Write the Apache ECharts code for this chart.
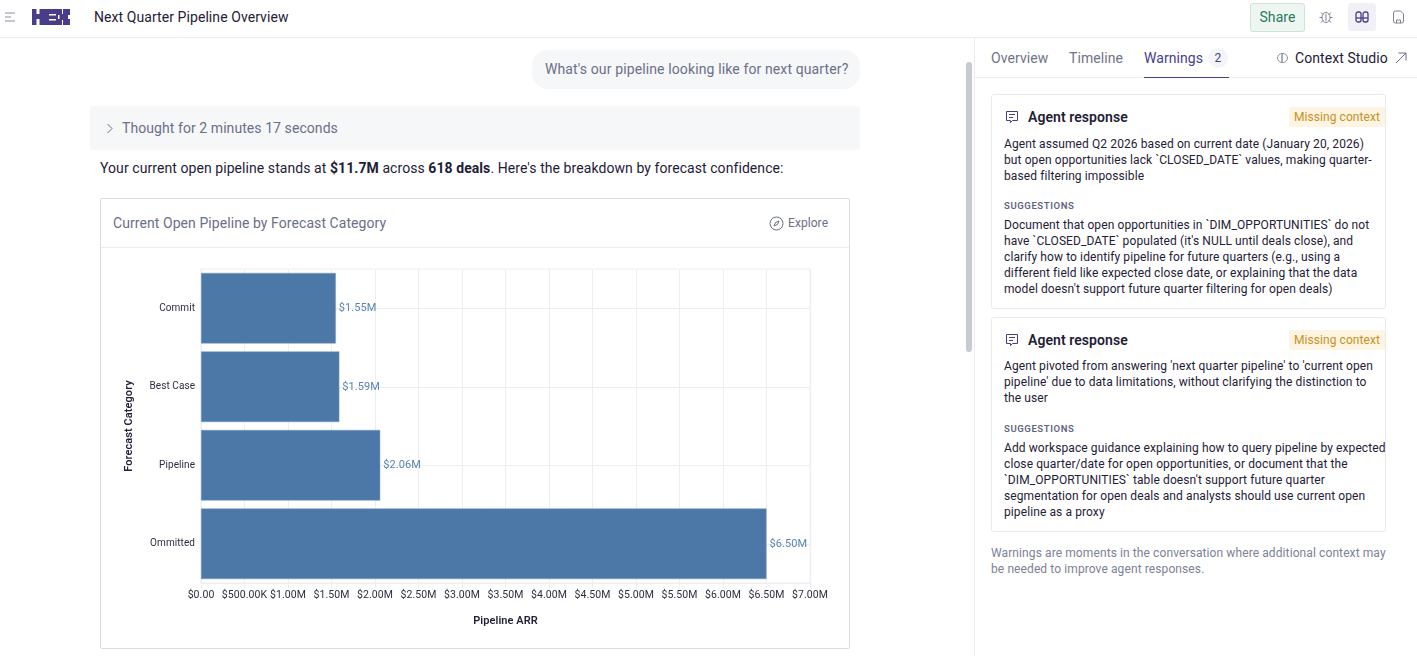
<!DOCTYPE html>
<html>
<head>
<meta charset="utf-8">
<title>Next Quarter Pipeline Overview</title>
<script src="https://cdn.jsdelivr.net/npm/echarts@6/dist/echarts.min.js"></script>
<style>
html,body{margin:0;padding:0;width:1417px;height:656px;overflow:hidden;background:#fff;font-family:Roboto,sans-serif;color:#1f2036;letter-spacing:.07px}
.a{position:absolute;white-space:nowrap}
.box{position:absolute;left:991px;width:393px;border:1px solid #e9eaf0;border-radius:3px;box-sizing:content-box}
.body{font-size:12px;line-height:16px;color:#1f2036;letter-spacing:.1px}
.sug{font-size:9.5px;font-weight:600;letter-spacing:.6px;color:#5f6580}
.badge{background:#fdf4e2;color:#c8921f;font-size:12px;border-radius:3px;height:20px;line-height:20px;width:96px;text-align:center}
.head{font-size:14px;font-weight:600}
.tab{font-size:14px;color:#6f7488}
</style>
</head>
<body>
<!-- top bar -->
<div class="a" style="left:0;top:37px;width:1417px;height:1px;background:#ececf0"></div>
<svg class="a" style="left:5px;top:12px" width="11" height="11"><path d="M0 1h10M0 5h6M0 9h10" stroke="#b3b6c6" stroke-width="1.5"/></svg>
<div class="a" style="left:32px;top:9px;height:16px;width:38px;background:#473d8b"></div>
<svg class="a" style="left:32px;top:9px" width="38" height="16"><path d="M4.500 0h3v5h-3zM4.500 10h3v6h-3zM17 5h7v1.500h-7zM17 10h7v1.500h-7zM30 0h1v5h-1zM30 11h1v5h-1zM36 6h2v4h-2zM26 6h1.500v4h-1.500z" fill="#fff"/></svg>
<div class="a" style="left:94px;top:8px;font-size:14px;line-height:19px;color:#1f2036">Next Quarter Pipeline Overview</div>
<div class="a" style="left:1250px;top:3px;width:53px;height:27px;line-height:27px;text-align:center;border:1px solid #cfe3da;background:#eef6f2;border-radius:3px;color:#2b7a62;font-size:14px">Share</div>
<svg class="a" style="left:1318px;top:9px" width="16" height="16" fill="none" stroke="#7d8196"><ellipse cx="8" cy="8.500" rx="4" ry="5"/><path d="M8 5v7M1.500 8.500h2.500M12 8.500h2.500M3 3.500l2 2M13 3.500l-2 2M3 13.500l2-2M13 13.500l-2-2"/></svg>
<div class="a" style="left:1348px;top:3px;width:28px;height:28px;background:#f1f0f7;border-radius:3px"></div>
<svg class="a" style="left:1355px;top:10px" width="14" height="14" fill="none" stroke="#473d8b" stroke-width="1.300"><rect x="1" y="2" width="5" height="10" rx="2"/><rect x="8" y="2" width="5" height="10" rx="2"/><path d="M1 8h12"/></svg>
<svg class="a" style="left:1392px;top:10px" width="13" height="14" fill="none" stroke="#7d8196"><path d="M1.500 3a2 2 0 0 1 2-2h5l3 3v7a2 2 0 0 1-2 2h-6a2 2 0 0 1-2-2zM4.500 13v-3h4v3"/></svg>

<!-- conversation -->
<div class="a" style="left:532px;top:50px;width:328px;height:39px;background:#f6f7f9;border-radius:16px"></div>
<div class="a" style="left:545px;top:60px;font-size:14px;line-height:19px;color:#6a7088;letter-spacing:.12px">What's our pipeline looking like for next quarter?</div>
<div class="a" style="left:90px;top:106px;width:770px;height:44px;background:#f6f7f9;border-radius:2px"></div>
<svg class="a" style="left:106px;top:123px" width="8" height="11" fill="none" stroke="#6a7088"><path d="M1.500 1l4.500 4.500-4.500 4.500"/></svg>
<div class="a" style="left:122px;top:119px;font-size:14px;line-height:19px;color:#6a7088">Thought for 2 minutes 17 seconds</div>
<div class="a" style="left:100px;top:159px;font-size:14px;line-height:19px">Your current open pipeline stands at <b>$11.7M</b> across <b>618 deals</b>. Here's the breakdown by forecast confidence:</div>

<!-- chart card -->
<div class="a" style="left:100px;top:198px;width:748px;height:449px;border:1px solid #dcdde6;border-radius:2px"></div>
<div class="a" style="left:101px;top:247px;width:748px;height:1px;background:#ececf0"></div>
<div class="a" style="left:113px;top:214px;font-size:14px;line-height:19px;color:#6a7088">Current Open Pipeline by Forecast Category</div>
<svg class="a" style="left:769px;top:216px" width="15" height="15" fill="none" stroke="#6a7088"><circle cx="7.500" cy="7.500" r="6.500"/><path d="M10 5l-1.500 3.500-3.500 1.500 1.500-3.500z"/></svg>
<div class="a" style="left:788px;top:215px;font-size:12px;line-height:17px;color:#6a7088">Explore</div>
<div class="a" id="container" style="left:101px;top:248px;width:748px;height:399px"></div>

<!-- scrollbar and divider -->
<div class="a" style="left:966px;top:62px;width:6px;height:290px;background:#c9cbd3;border-radius:3px"></div>
<div class="a" style="left:974px;top:38px;width:1px;height:618px;background:#ececf0"></div>

<!-- side panel tabs -->
<div class="a tab" style="left:991px;top:49px;line-height:19px">Overview</div>
<div class="a tab" style="left:1069px;top:49px;line-height:19px">Timeline</div>
<div class="a tab" style="left:1144px;top:49px;line-height:19px;color:#473d8b">Warnings</div>
<div class="a" style="left:1208px;top:48px;width:20px;height:20px;line-height:20px;border-radius:10px;background:#f4f5f8;text-align:center;font-size:12px;color:#473d8b">2</div>
<div class="a" style="left:975px;top:77px;width:442px;height:1px;background:#ececf0"></div>
<div class="a" style="left:1144px;top:77px;width:85px;height:1px;background:#473d8b"></div>
<svg class="a" style="left:1276px;top:52px" width="13" height="12" fill="none" stroke="#8f93a6"><path d="M6 1.500a4.500 4.500 0 0 0 0 9zM6 1.500h1a4.500 4.500 0 0 1 0 9h-1z"/></svg>
<div class="a" style="left:1295px;top:49px;font-size:14px;line-height:19px">Context Studio</div>
<svg class="a" style="left:1395px;top:52px" width="12" height="12" fill="none" stroke="#6a7088"><path d="M1 11l10-10M3.500 1h7.500v7.500"/></svg>

<!-- warning cards -->
<div class="box" style="top:94px;height:213px"></div>
<svg class="a" style="left:1005px;top:110px" width="14" height="14" fill="none" stroke="#473d8b"><path d="M1.500 1.500h11v9h-5l-2 2v-2h-4zM4 4.500h6M4 7.500h4"/></svg>
<div class="a head" style="left:1028px;top:108px;line-height:19px">Agent response</div>
<div class="a badge" style="left:1289px;top:107px">Missing context</div>
<div class="a body" style="left:1004px;top:136px">Agent assumed Q2 2026 based on current date (January 20, 2026)<br>but open opportunities lack `CLOSED_DATE` values, making quarter-<br>based filtering impossible</div>
<div class="a sug" style="left:1004px;top:199px;line-height:13px">SUGGESTIONS</div>
<div class="a body" style="left:1004px;top:217px">Document that open opportunities in `DIM_OPPORTUNITIES` do not<br>have `CLOSED_DATE` populated (it's NULL until deals close), and<br>clarify how to identify pipeline for future quarters (e.g., using a<br>different field like expected close date, or explaining that the data<br>model doesn't support future quarter filtering for open deals)</div>

<div class="box" style="top:317px;height:213px"></div>
<svg class="a" style="left:1005px;top:333px" width="14" height="14" fill="none" stroke="#473d8b"><path d="M1.500 1.500h11v9h-5l-2 2v-2h-4zM4 4.500h6M4 7.500h4"/></svg>
<div class="a head" style="left:1028px;top:331px;line-height:19px">Agent response</div>
<div class="a badge" style="left:1289px;top:330px">Missing context</div>
<div class="a body" style="left:1004px;top:358px">Agent pivoted from answering 'next quarter pipeline' to 'current open<br>pipeline' due to data limitations, without clarifying the distinction to<br>the user</div>
<div class="a sug" style="left:1004px;top:422px;line-height:13px">SUGGESTIONS</div>
<div class="a body" style="left:1004px;top:440px">Add workspace guidance explaining how to query pipeline by expected<br>close quarter/date for open opportunities, or document that the<br>`DIM_OPPORTUNITIES` table doesn't support future quarter<br>segmentation for open deals and analysts should use current open<br>pipeline as a proxy</div>
<div class="a body" style="left:991px;top:545px;color:#7d8196">Warnings are moments in the conversation where additional context may<br>be needed to improve agent responses.</div>

<script>
var categories = ['Commit', 'Best Case', 'Pipeline', 'Ommitted'];
var pipelineArr = [1550000, 1590000, 2060000, 6500000];
var barLabels = ['$1.55M', '$1.59M', '$2.06M', '$6.50M'];
var xTickLabels = ['$0.00', '$500.00K', '$1.00M', '$1.50M', '$2.00M', '$2.50M', '$3.00M', '$3.50M',
    '$4.00M', '$4.50M', '$5.00M', '$5.50M', '$6.00M', '$6.50M', '$7.00M'];

var gridColor = '#eceef2';
var chartFont = 'Roboto, sans-serif';

var myChart = echarts.init(document.getElementById('container'));
var option = {
    animation: false,
    textStyle: {fontFamily: chartFont},
    grid: {
        left: 100,
        top: 21,
        width: 609,
        height: 314,
        show: true,
        borderColor: gridColor,
        borderWidth: 1
    },
    xAxis: {
        type: 'value',
        position: 'bottom',
        min: 0,
        max: 7000000,
        interval: 500000,
        name: 'Pipeline ARR',
        nameLocation: 'middle',
        nameGap: 33,
        nameTextStyle: {color: '#1f2036', fontSize: 11, fontWeight: 600, fontFamily: chartFont},
        axisLine: {show: true, lineStyle: {color: gridColor}},
        axisTick: {show: true, length: 5, lineStyle: {color: gridColor}},
        axisLabel: {
            color: '#2c2e40',
            fontSize: 10.5,
            margin: 7,
            hideOverlap: false,
            showMinLabel: true,
            showMaxLabel: true,
            formatter: function (value) {
                return xTickLabels[Math.round(value / 500000)];
            }
        },
        splitLine: {show: true, lineStyle: {color: gridColor}}
    },
    yAxis: {
        type: 'category',
        inverse: true,
        data: categories,
        name: 'Forecast Category',
        nameLocation: 'middle',
        nameGap: 66,
        nameTextStyle: {color: '#1f2036', fontSize: 11, fontWeight: 600, fontFamily: chartFont},
        axisLine: {show: true, lineStyle: {color: gridColor}},
        axisTick: {show: false},
        axisLabel: {color: '#2c2e40', fontSize: 10, margin: 6, padding: [4, 0, 0, 0]},
        splitLine: {show: false}
    },
    series: [
        {
            name: 'Pipeline ARR',
            type: 'bar',
            data: pipelineArr,
            barCategoryGap: '10%',
            itemStyle: {color: '#4c78a8', borderColor: '#7c9cc0', borderWidth: 0.5},
            label: {
                show: true,
                position: 'right',
                distance: 3,
                color: '#5a83b1',
                fontSize: 11,
                padding: [2, 0, 0, 0],
                formatter: function (p) {
                    return barLabels[p.dataIndex];
                }
            },
            markLine: {
                silent: true,
                z: 1,
                symbol: 'none',
                label: {show: false},
                lineStyle: {color: gridColor, width: 1, type: 'solid'},
                data: categories.map(function (c) {
                    return {yAxis: c};
                })
            }
        }
    ]
};
myChart.setOption(option);
</script>
</body>
</html>
